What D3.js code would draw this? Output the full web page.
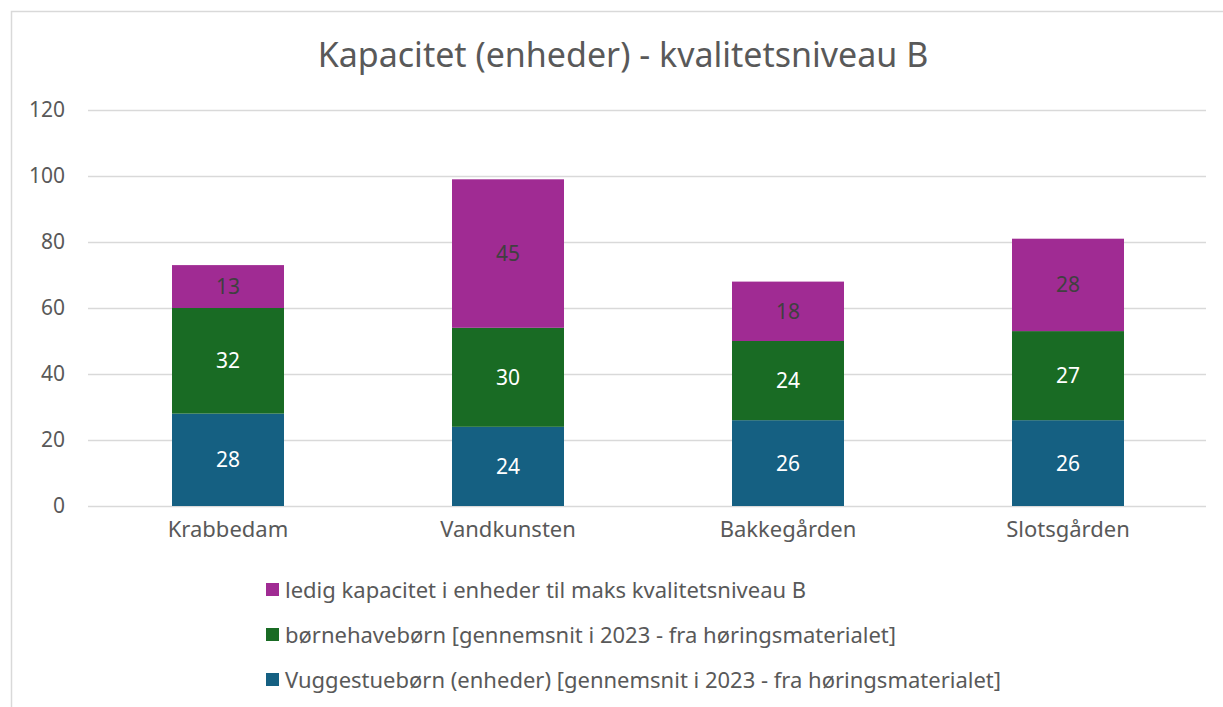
<!DOCTYPE html>
<html><head><meta charset="utf-8">
<script src="https://cdn.jsdelivr.net/npm/d3@7"></script>
<style>body{margin:0;background:#fff;} text{font-family:"Noto Sans",sans-serif;}</style>
</head><body>
<svg id="c" width="1223" height="707"></svg>
<script>
const categories = ["Krabbedam", "Vandkunsten", "Bakkegården", "Slotsgården"];
const vuggestue = [28, 24, 26, 26];
const boernehave = [32, 30, 24, 27];
const ledig = [13, 45, 18, 28];
const seriesNames = [
  "Vuggestuebørn (enheder) [gennemsnit i 2023 - fra høringsmaterialet]",
  "børnehavebørn [gennemsnit i 2023 - fra høringsmaterialet]",
  "ledig kapacitet i enheder til maks kvalitetsniveau B"
];
const seriesColors = ["#156082", "#196B24", "#A02B93"];
const labelColors = ["#ffffff", "#ffffff", "#404040"];
const yTicks = [0, 20, 40, 60, 80, 100, 120];
const title = "Kapacitet (enheder) - kvalitetsniveau B";

const svg = d3.select("#c");
// chart border
svg.append("path").attr("d","M11.5,707 V11.5 H1223").attr("fill","none").attr("stroke","#d9d9d9").attr("stroke-width",1.5);

const x = d3.scaleBand().domain(categories).range([88, 1208]).paddingInner(0.6).paddingOuter(0.3);
const y = d3.scaleLinear().domain([0, 120]).range([506, 110]);

// gridlines
svg.append("g").selectAll("line").data(yTicks).join("line")
  .attr("x1", 88).attr("x2", 1206)
  .attr("y1", d => Math.round(y(d)) + 0.5).attr("y2", d => Math.round(y(d)) + 0.5)
  .attr("stroke", "#d9d9d9").attr("stroke-width", 1.5);

// y axis labels
const yAxis = d3.axisLeft(y).tickValues(yTicks).tickSize(0).tickPadding(0);
const gy = svg.append("g").attr("transform","translate(65,0)").call(yAxis);
gy.select(".domain").remove();
gy.selectAll("text").attr("font-size", 21).attr("fill", "#595959").attr("font-family","Noto Sans, sans-serif");

// x axis labels
const xAxis = d3.axisBottom(x).tickSize(0).tickPadding(0);
const gx = svg.append("g").attr("transform","translate(0,521)").call(xAxis);
gx.select(".domain").remove();
gx.selectAll("text").attr("font-size", 22).attr("fill", "#595959").attr("font-family","Noto Sans, sans-serif");

const table = categories.map((c, i) => ({cat: c, s0: vuggestue[i], s1: boernehave[i], s2: ledig[i]}));
const stack = d3.stack().keys(["s0","s1","s2"])(table);

stack.forEach((layer, li) => {
  const g = svg.append("g");
  g.selectAll("rect").data(layer).join("rect")
    .attr("x", d => x(d.data.cat))
    .attr("width", x.bandwidth())
    .attr("y", d => y(d[1]))
    .attr("height", d => y(d[0]) - y(d[1]))
    .attr("fill", seriesColors[li]);
  g.selectAll("text").data(layer).join("text")
    .attr("x", d => x(d.data.cat) + x.bandwidth()/2)
    .attr("y", d => (y(d[0]) + y(d[1]))/2)
    .attr("dy", "0.36em")
    .attr("text-anchor", "middle")
    .attr("font-size", 21)
    .attr("font-family", "Liberation Sans, Arial, sans-serif")
    .attr("fill", labelColors[li])
    .text(d => d[1] - d[0]);
});

// title
svg.append("text").attr("x", 623).attr("y", 67).attr("text-anchor","middle")
  .attr("font-size", 34).attr("fill", "#595959").text(title);

// legend (reverse order)
const legendOrder = [2, 1, 0];
const lg = svg.append("g");
legendOrder.forEach((si, k) => {
  const cy = 590 + k * 45;
  lg.append("rect").attr("x", 266).attr("y", cy - 7).attr("width", 13).attr("height", 13).attr("fill", seriesColors[si]);
  lg.append("text").attr("x", 285).attr("y", cy).attr("dy","0.35em").attr("font-size", 22).attr("fill","#595959").text(seriesNames[si]);
});
</script>
</body></html>
